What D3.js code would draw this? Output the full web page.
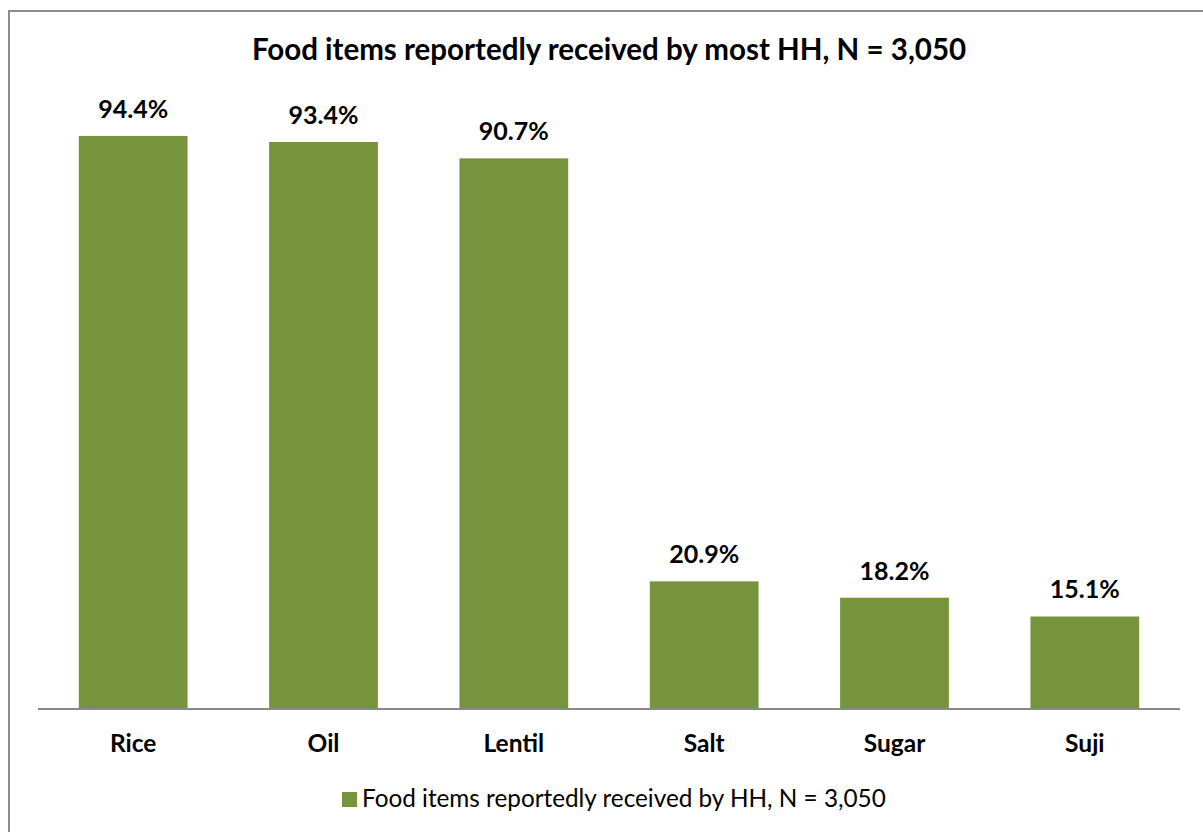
<!DOCTYPE html>
<html>
<head>
<meta charset="utf-8">
<script src="https://cdn.jsdelivr.net/npm/d3@7"></script>
<style>
  html, body { margin: 0; padding: 0; background: #fff; }
  svg { display: block; }
  text { font-family: Lato, "Open Sans", "Liberation Sans", sans-serif; fill: #000; }
</style>
</head>
<body>
<svg id="chart" width="1203" height="832"></svg>
<script>
// Share of households that reported receiving each food item (%)
const categories = ["Rice", "Oil", "Lentil", "Salt", "Sugar", "Suji"];
const values = [94.4, 93.4, 90.7, 20.9, 18.2, 15.1];
const seriesName = "Food items reportedly received by HH, N = 3,050";
const chartTitle = "Food items reportedly received by most HH, N = 3,050";

const W = 1203, H = 832;
const barColor = "#77933c";
const axisColor = "#898989";

const svg = d3.select("#chart");

// Outer frame of the chart area
svg.append("rect")
  .attr("x", 9).attr("y", 11)
  .attr("width", W + 20).attr("height", H + 20)
  .attr("fill", "#fff")
  .attr("stroke", "#8c8c8c")
  .attr("stroke-width", 2);

const plot = { left: 38, right: 1180, top: 102, bottom: 708 };

const x = d3.scaleBand()
  .domain(categories)
  .range([plot.left, plot.right])
  .paddingInner(0.75 / 1.75)
  .paddingOuter(0.375 / 1.75);

const y = d3.scaleLinear()
  .domain([0, 100])
  .range([plot.bottom, plot.top]);

// Title
svg.append("text")
  .attr("x", 609).attr("y", 60)
  .attr("text-anchor", "middle")
  .style("font-size", "29.5px")
  .style("font-weight", "700")
  .text(chartTitle);

// Bars
svg.append("g").selectAll("rect")
  .data(values)
  .join("rect")
  .attr("x", (d, i) => x(categories[i]))
  .attr("y", d => y(d))
  .attr("width", x.bandwidth())
  .attr("height", d => y(0) - y(d))
  .attr("fill", barColor);

// Value labels
svg.append("g").selectAll("text")
  .data(values)
  .join("text")
  .attr("x", (d, i) => x(categories[i]) + x.bandwidth() / 2)
  .attr("y", d => y(d) - 18)
  .attr("text-anchor", "middle")
  .style("font-size", "25px")
  .style("font-weight", "700")
  .text(d => d.toFixed(1) + "%");

// Category axis
const xAxis = d3.axisBottom(x).tickSize(0).tickPadding(0);
const gx = svg.append("g")
  .attr("transform", `translate(0,${plot.bottom + 1})`)
  .call(xAxis);
gx.select(".domain")
  .attr("stroke", axisColor)
  .attr("stroke-width", 2)
  .attr("d", `M${plot.left},0H${plot.right}`);
gx.selectAll(".tick text")
  .attr("y", 43)
  .attr("dy", 0)
  .style("font-size", "24.5px")
  .style("font-weight", "700")
  .style("font-family", "Lato, 'Open Sans', sans-serif")
  .attr("fill", "#000");

// Legend
const legend = svg.append("g");
legend.append("rect")
  .attr("x", 342).attr("y", 792)
  .attr("width", 15).attr("height", 15)
  .attr("fill", barColor);
legend.append("text")
  .attr("x", 362).attr("y", 807)
  .style("font-size", "24.3px")
  .style("font-weight", "400")
  .text(seriesName);
</script>
</body>
</html>
